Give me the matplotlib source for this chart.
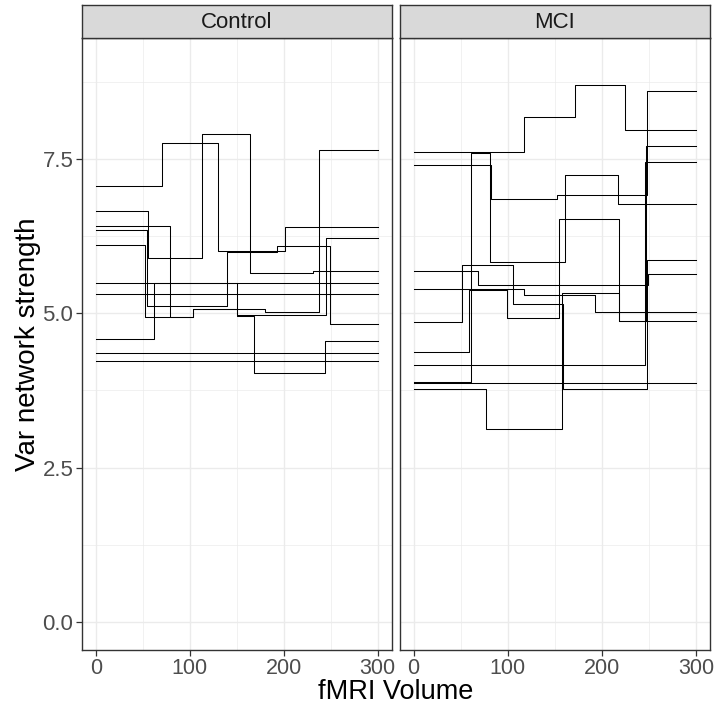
import matplotlib.pyplot as plt
import numpy as np

plt.rcParams['font.family'] = ['Liberation Sans', 'DejaVu Sans']

# Step series: breakpoints (fMRI volume where the value changes) and levels
control_breaks = [
    [70.8, 130.3, 201],
    [55.6, 113.3, 163.9, 230.8],
    [79, 103.5, 180, 238],
    [54.2, 139.8, 193, 249.6],
    [52.4, 103.5, 150, 245],
    [],
    [],
    [62, 150, 168.9, 243.6],
    [],
    [],
]
control_levels = [
    [7.055, 7.75, 6.0, 6.39],
    [6.66, 5.90, 7.90, 5.656, 5.69],
    [6.405, 4.946, 5.07, 5.027, 7.64],
    [6.34, 5.11, 5.99, 6.085, 4.82],
    [6.10, 4.946, 5.07, 4.973, 6.226],
    [5.49],
    [5.315],
    [4.577, 5.49, 4.95, 4.03, 4.55],
    [4.355],
    [4.22],
]

mci_breaks = [
    [117.7, 172, 224.5],
    [82.6, 152.5, 248],
    [60.6, 81.6, 161.3, 216.7],
    [68, 249],
    [117.7, 193.3],
    [51.4, 105.3, 158.9, 248],
    [58.5, 99.6, 154.2, 218.4],
    [77, 157.8, 218.4, 246.5],
    [245.7],
    [],
]
mci_levels = [
    [7.613, 8.174, 8.687, 7.969],
    [7.392, 6.847, 6.917, 8.59],
    [3.886, 7.60, 5.833, 7.236, 6.766],
    [5.682, 5.461, 5.628],
    [5.391, 5.294, 5.019],
    [4.857, 5.774, 5.148, 3.773, 5.86],
    [4.372, 5.375, 4.922, 6.524, 4.868],
    [3.767, 3.131, 5.326, 4.868, 7.705],
    [4.156, 7.451],
    [3.875],
]

groups = ["Control", "MCI"]
x_end = 300
x_ticks = [0, 100, 200, 300]
y_ticks = [0.0, 2.5, 5.0, 7.5]

W, H = 715, 708
fig = plt.figure(figsize=(W / 100, H / 100), dpi=100)

panel_px = [(81.7, 391.7), (399.5, 710)]
top_px, bottom_px, strip_top_px = 38.3, 650, 5
grid_col = '#EBEBEB'
border_col = '#333333'

for i, (grp, brks, lvls) in enumerate(zip(groups, [control_breaks, mci_breaks],
                                         [control_levels, mci_levels])):
    x0, x1 = panel_px[i]
    ax = fig.add_axes([x0 / W, (H - bottom_px) / H, (x1 - x0) / W, (bottom_px - top_px) / H])
    ax.set_xlim(-15, 315)
    ax.set_ylim(-0.45, 9.45)

    # grid
    for v in [50, 150, 250]:
        ax.axvline(v, color=grid_col, lw=0.5, zorder=0)
    for v in [1.25, 3.75, 6.25, 8.75]:
        ax.axhline(v, color=grid_col, lw=0.5, zorder=0)
    for v in x_ticks:
        ax.axvline(v, color=grid_col, lw=1.0, zorder=0)
    for v in y_ticks:
        ax.axhline(v, color=grid_col, lw=1.0, zorder=0)

    for b, l in zip(brks, lvls):
        xs = [0] + b + [x_end]
        ys = l + [l[-1]]
        ax.step(xs, ys, where='post', color='black', lw=0.75, zorder=2)

    for s in ax.spines.values():
        s.set_color(border_col)
        s.set_linewidth(1.0)

    ax.set_xticks(x_ticks)
    ax.set_xticklabels([str(t) for t in x_ticks])
    ax.tick_params(axis='x', length=4, width=0.9, color=border_col,
                   labelsize=15.5, labelcolor='#4D4D4D', pad=1.5)
    if i == 0:
        ax.set_yticks(y_ticks)
        ax.set_yticklabels([f"{t:.1f}" for t in y_ticks])
        ax.tick_params(axis='y', length=4, width=0.9, color=border_col,
                       labelsize=16, labelcolor='#4D4D4D', pad=2)
    else:
        ax.set_yticks([])

    # facet strip
    sax = fig.add_axes([x0 / W, (H - top_px) / H, (x1 - x0) / W, (top_px - strip_top_px) / H])
    sax.set_facecolor('#D9D9D9')
    sax.set_xticks([])
    sax.set_yticks([])
    for s in sax.spines.values():
        s.set_color(border_col)
        s.set_linewidth(1.0)
    sax.text(0.5, 0.47, grp, ha='center', va='center', fontsize=16,
             color='#1A1A1A', transform=sax.transAxes)

fig.text(396 / W, 1 - 692 / H, "fMRI Volume", ha='center', va='center', fontsize=19.5)
fig.text(28 / W, 1 - 344 / H, "Var network strength", ha='center', va='center',
         rotation=90, fontsize=20)

fig.savefig("out.png", dpi=100)
